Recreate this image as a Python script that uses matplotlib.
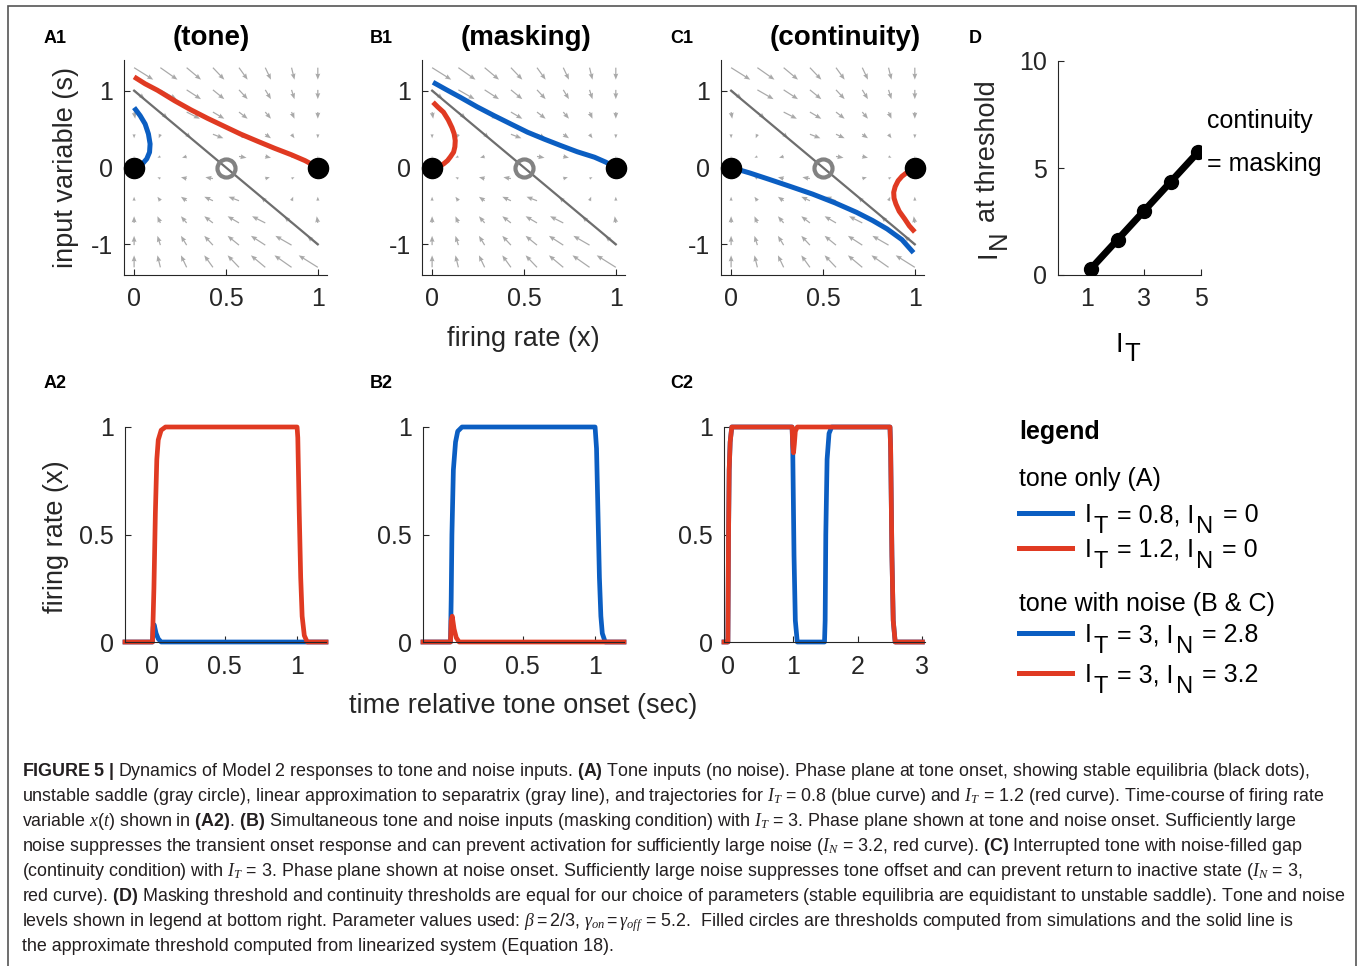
import numpy as np
import matplotlib
matplotlib.use('Agg')
import matplotlib.pyplot as plt
from matplotlib import font_manager
from matplotlib.patches import Rectangle
from matplotlib.lines import Line2D

W, H = 1360, 966

# ---- phase plane vector field (same grid in A1, B1, C1), arrow components as drawn
grid_x = [0.0, 0.143, 0.286, 0.429, 0.571, 0.714, 0.857, 1.0]
grid_s = [1.3, 1.011, 0.722, 0.433, 0.144, -0.144, -0.433, -0.722, -1.011, -1.3]
field_dx = [
    [0.104, 0.093, 0.078, 0.062, 0.047, 0.031, 0.016, 0.0],
    [0.058, 0.088, 0.078, 0.062, 0.047, 0.031, 0.016, 0.0],
    [0.006, 0.041, 0.072, 0.062, 0.047, 0.031, 0.016, 0.0],
    [0.0, -0.009, 0.024, 0.057, 0.047, 0.031, 0.016, 0.0],
    [0.0, -0.016, -0.025, 0.008, 0.041, 0.031, 0.016, 0.0],
    [0.0, -0.016, -0.031, -0.041, -0.008, 0.025, 0.016, 0.0],
    [0.0, -0.016, -0.031, -0.047, -0.057, -0.024, 0.009, 0.0],
    [0.0, -0.016, -0.031, -0.047, -0.062, -0.072, -0.041, -0.006],
    [0.0, -0.016, -0.031, -0.047, -0.062, -0.078, -0.088, -0.058],
    [0.0, -0.016, -0.031, -0.047, -0.062, -0.078, -0.093, -0.104],
]
field_ds = [-0.156, -0.121, -0.087, -0.052, -0.017, 0.017, 0.052, 0.087, 0.121, 0.156]

sep_x = [0, 1]
sep_s = [1, -1]
stable_x = [0, 1]
stable_s = [0, 0]
saddle_x = [0.5]
saddle_s = [0]

# trajectories (x, s)
a1_blue_x = [0.0, 0.033, 0.06, 0.078, 0.087, 0.084, 0.069, 0.042, 0.011, 0.0]
a1_blue_s = [0.78, 0.675, 0.567, 0.437, 0.307, 0.199, 0.113, 0.039, 0.005, 0.0]
a1_red_x = [0.0, 0.06, 0.127, 0.22, 0.31, 0.40, 0.492, 0.58, 0.674, 0.765, 0.856, 0.93, 1.0]
a1_red_s = [1.18, 1.09, 1.006, 0.87, 0.75, 0.64, 0.535, 0.435, 0.34, 0.25, 0.166, 0.09, 0.0]

b1_blue_x = [0.005, 0.08, 0.153, 0.245, 0.336, 0.43, 0.519, 0.61, 0.70, 0.79, 0.884, 0.945, 1.0]
b1_blue_s = [1.11, 1.01, 0.915, 0.79, 0.677, 0.565, 0.46, 0.37, 0.286, 0.205, 0.134, 0.07, 0.0]
b1_red_x = [0.005, 0.03, 0.062, 0.088, 0.108, 0.12, 0.126, 0.124, 0.117, 0.1, 0.084, 0.064, 0.044, 0.02, 0.0]
b1_red_s = [0.85, 0.79, 0.72, 0.62, 0.52, 0.44, 0.35, 0.27, 0.2, 0.14, 0.09, 0.05, 0.02, 0.005, 0.0]

c1_blue_x = [0.0, 0.1, 0.203, 0.32, 0.443, 0.565, 0.682, 0.77, 0.849, 0.93, 0.993]
c1_blue_s = [0.0, -0.07, -0.151, -0.245, -0.346, -0.46, -0.583, -0.69, -0.8, -0.94, -1.11]
c1_red_x = [1.0, 0.97, 0.945, 0.915, 0.897, 0.887, 0.885, 0.893, 0.909, 0.93, 0.957, 0.98, 1.0]
c1_red_s = [-0.84, -0.76, -0.67, -0.57, -0.475, -0.4, -0.324, -0.25, -0.173, -0.115, -0.065, -0.025, 0.0]

# time courses of firing rate
a2_red_t = [-0.19, 0, 0.01, 0.02, 0.03, 0.04, 0.06, 0.09, 1.0, 1.005, 1.015, 1.025, 1.035, 1.05, 1.07, 1.2]
a2_red_x = [0, 0, 0.25, 0.6, 0.85, 0.94, 0.985, 1.0, 1.0, 0.95, 0.6, 0.3, 0.12, 0.03, 0, 0]
a2_blue_t = [-0.19, 0, 0.005, 0.012, 0.025, 0.04, 0.06, 1.0, 1.2]
a2_blue_x = [0, 0, 0.07, 0.08, 0.04, 0.015, 0, 0, 0]

b2_blue_t = [-0.19, 0, 0.005, 0.01, 0.02, 0.035, 0.05, 0.08, 1.0, 1.01, 1.02, 1.03, 1.04, 1.05, 1.07, 1.2]
b2_blue_x = [0, 0, 0.2, 0.5, 0.8, 0.93, 0.98, 1.0, 1.0, 0.9, 0.6, 0.3, 0.12, 0.04, 0, 0]
b2_red_t = [-0.19, 0, 0.005, 0.012, 0.025, 0.04, 0.06, 1.2]
b2_red_x = [0, 0, 0.1, 0.12, 0.06, 0.02, 0, 0]

c2_blue_t = [-0.06, 0, 0.01, 0.02, 0.035, 0.06, 0.99, 1.0, 1.02, 1.04, 1.07, 1.49, 1.5, 1.51, 1.53, 1.56, 1.6,
             2.5, 2.51, 2.53, 2.55, 2.58, 3.0]
c2_blue_x = [0, 0, 0.5, 0.8, 0.93, 1, 1, 0.9, 0.4, 0.1, 0, 0, 0.1, 0.5, 0.85, 0.97, 1,
             1, 0.9, 0.4, 0.1, 0, 0]
c2_red_t = [-0.06, 0, 0.01, 0.02, 0.035, 0.06, 0.99, 1.0, 1.012, 1.025, 1.04, 1.07, 2.5, 2.51, 2.53, 2.55, 2.58, 3.0]
c2_red_x = [0, 0, 0.5, 0.8, 0.93, 1, 1, 0.92, 0.88, 0.92, 0.98, 1, 1, 0.9, 0.4, 0.1, 0, 0]

# D: thresholds
it_sim = [1.15, 2.1, 3.0, 3.95, 4.9]
in_sim = [0.3, 1.65, 3.0, 4.35, 5.75]
it_lin = [1.1, 4.95]
in_lin = [0.22, 5.82]

# legend entries: colour, I_T text, I_N text
legend_rows = [('blue', '0.8', '0'), ('red', '1.2', '0'), ('blue', '3', '2.8'), ('red', '3', '3.2')]

caption = [
    r"$\mathbf{FIGURE\ 5\ |}$ Dynamics of Model 2 responses to tone and noise inputs. $\mathbf{(A)}$ Tone inputs (no noise). Phase plane at tone onset, showing stable equilibria (black dots),",
    r"unstable saddle (gray circle), linear approximation to separatrix (gray line), and trajectories for $I_T$ = 0.8 (blue curve) and $I_T$ = 1.2 (red curve). Time-course of firing rate",
    r"variable $x(t)$ shown in $\mathbf{(A2)}$. $\mathbf{(B)}$ Simultaneous tone and noise inputs (masking condition) with $I_T$ = 3. Phase plane shown at tone and noise onset. Sufficiently large",
    r"noise suppresses the transient onset response and can prevent activation for sufficiently large noise ($I_N$ = 3.2, red curve). $\mathbf{(C)}$ Interrupted tone with noise-filled gap",
    r"(continuity condition) with $I_T$ = 3. Phase plane shown at noise onset. Sufficiently large noise suppresses tone offset and can prevent return to inactive state ($I_N$ = 3,",
    r"red curve). $\mathbf{(D)}$ Masking threshold and continuity thresholds are equal for our choice of parameters (stable equilibria are equidistant to unstable saddle). Tone and noise",
    r"levels shown in legend at bottom right. Parameter values used: $\beta = 2/3$, $\gamma_{on} = \gamma_{off}$ = 5.2.  Filled circles are thresholds computed from simulations and the solid line is",
    r"the approximate threshold computed from linearized system (Equation 18).",
]

BLUE = '#0b5ec2'
RED = '#e03a22'
COLORS = {'blue': BLUE, 'red': RED}
AX = '#262626'

cap_font = 'Liberation Sans'
try:
    font_manager.findfont('Liberation Sans Narrow', fallback_to_default=False)
    cap_font = 'Liberation Sans Narrow'
except ValueError:
    pass

plt.rcParams['font.family'] = ['Liberation Sans', 'DejaVu Sans']
plt.rcParams['axes.unicode_minus'] = False
plt.rcParams['mathtext.fontset'] = 'custom'
plt.rcParams['mathtext.rm'] = 'Liberation Sans'
plt.rcParams['mathtext.it'] = 'Liberation Serif:italic'
plt.rcParams['mathtext.bf'] = cap_font + ':bold'

fig = plt.figure(figsize=(13.6, 9.66), dpi=100)
renderer = fig.canvas.get_renderer()


def box(l, t, r, b):
    return [l / W, 1 - b / H, (r - l) / W, (b - t) / H]


def ftext(x, y, s, **kw):
    return fig.text(x / W, 1 - y / H, s, **kw)


def text_width(s, size):
    t = ftext(0, 0, s, fontsize=size)
    w = t.get_window_extent(renderer).width
    t.remove()
    return w


def sub_label(x, y, parts, size, drop=11, vertical=False, center=False):
    # parts: (text, is_subscript, gap_before_px); big MATLAB-style subscripts
    widths = [text_width(s, size * (0.95 if sub else 1)) for s, sub, g in parts]
    total = sum(widths) + sum(g for s, sub, g in parts)
    pos = -total / 2 if center else 0
    for (s, sub, g), w in zip(parts, widths):
        pos += g
        fs = size * (0.95 if sub else 1)
        if vertical:
            ftext(x + (drop if sub else 0), y - pos, s, fontsize=fs, rotation=90,
                  ha='center', va='bottom', color=AX)
        else:
            ftext(x + pos, y + (drop if sub else 0), s, fontsize=fs, ha='left', va='baseline', color='k')
        pos += w


def style(ax):
    for side in ['top', 'right']:
        ax.spines[side].set_visible(False)
    for side in ['left', 'bottom']:
        ax.spines[side].set_color(AX)
        ax.spines[side].set_linewidth(0.8)
    ax.tick_params(direction='in', length=4, width=0.8, colors=AX, labelsize=18)
    ax.tick_params(axis='x', pad=9)
    ax.tick_params(axis='y', pad=8)
    ax.patch.set_alpha(0)


QX, QS = np.meshgrid(grid_x, grid_s)
QU = np.array(field_dx)
QV = np.array(field_ds)[:, None] * np.ones(len(grid_x))

phase = [
    ((124, 60, 327, 275), [(a1_blue_x, a1_blue_s, BLUE), (a1_red_x, a1_red_s, RED)]),
    ((422, 60, 625, 275), [(b1_blue_x, b1_blue_s, BLUE), (b1_red_x, b1_red_s, RED)]),
    ((721, 60, 924, 275), [(c1_blue_x, c1_blue_s, BLUE), (c1_red_x, c1_red_s, RED)]),
]
for rect, trajs in phase:
    ax = fig.add_axes(box(*rect))
    style(ax)
    ax.quiver(QX, QS, QU, QV, angles='xy', scale_units='xy', scale=1, color='#a9a9a9',
              width=0.006, headwidth=4, headlength=5, headaxislength=4.5, zorder=1)
    ax.plot(sep_x, sep_s, color='#6e6e6e', lw=1.6, zorder=2)
    for tx, ts, c in trajs:
        ax.plot(tx, ts, color=c, lw=3.6, solid_capstyle='butt', solid_joinstyle='round', zorder=3)
    ax.plot(saddle_x, saddle_s, 'o', mfc='none', mec='#828282', mew=3.0, ms=13, zorder=4)
    ax.plot(stable_x, stable_s, 'o', color='k', ms=14.5, zorder=5, clip_on=False)
    ax.set_xlim(-0.055, 1.05)
    ax.set_ylim(-1.4, 1.4)
    ax.set_xticks([0, 0.5, 1])
    ax.set_xticklabels(['0', '0.5', '1'])
    ax.set_yticks([-1, 0, 1])
    ax.set_yticklabels(['-1', '0', '1'])

# D panel
axd = fig.add_axes(box(1058, 61, 1201, 275))
style(axd)
axd.plot(it_lin, in_lin, color='k', lw=5, solid_capstyle='round', zorder=2)
axd.plot(it_sim, in_sim, 'o', color='k', ms=10, zorder=3)
axd.set_xlim(0, 5)
axd.set_ylim(0, 10)
axd.set_xticks([1, 3, 5])
axd.set_yticks([0, 5, 10])

# time courses
timec = [
    ((125, 427, 326, 642), (-0.19, 1.2), [0, 0.5, 1], ['0', '0.5', '1'],
     [(a2_blue_t, a2_blue_x, BLUE), (a2_red_t, a2_red_x, RED)]),
    ((423, 427, 624, 642), (-0.19, 1.2), [0, 0.5, 1], ['0', '0.5', '1'],
     [(b2_blue_t, b2_blue_x, BLUE), (b2_red_t, b2_red_x, RED)]),
    ((724, 427, 925, 642), (-0.06, 3.04), [0, 1, 2, 3], ['0', '1', '2', '3'],
     [(c2_blue_t, c2_blue_x, BLUE), (c2_red_t, c2_red_x, RED)]),
]
for rect, xl, xt, xtl, series in timec:
    ax = fig.add_axes(box(*rect))
    style(ax)
    for tt, xx, c in series:
        ax.plot(tt, xx, color=c, lw=3.4, solid_joinstyle='round', clip_on=False)
    ax.set_xlim(*xl)
    ax.set_ylim(0, 1)
    ax.set_xticks(xt)
    ax.set_xticklabels(xtl)
    ax.set_yticks([0, 0.5, 1])
    ax.set_yticklabels(['0', '0.5', '1'])

# panel labels and titles
for x, y, s in [(44, 43, 'A1'), (370, 43, 'B1'), (670, 43, 'C1'), (969, 43, 'D'),
                (44, 388, 'A2'), (370, 388, 'B2'), (670, 388, 'C2')]:
    ftext(x, y, s, fontsize=13, fontweight='bold', va='baseline', color='k')
for x, s in [(211, '(tone)'), (526, '(masking)'), (845, '(continuity)')]:
    ftext(x, 45, s, fontsize=20, fontweight='bold', ha='center', va='baseline', color='k')

lab = dict(fontsize=19.5, color=AX, ha='center', va='center')
ftext(66, 168, 'input variable (s)', rotation=90, **lab)
ftext(523, 339, 'firing rate (x)', **lab)
ftext(56, 537, 'firing rate (x)', rotation=90, **lab)
ftext(523, 706, 'time relative tone onset (sec)', **lab)
sub_label(988, 169, [('I', False, 0), ('N', True, 1), ('at threshold', False, 9)], 19.5,
          drop=11, vertical=True, center=True)
sub_label(1128, 352, [('I', False, 0), ('T', True, 1)], 19.5, drop=9, center=True)
ftext(1207, 128, 'continuity', fontsize=18, color='k', va='baseline')
ftext(1207, 171, '= masking', fontsize=18, color='k', va='baseline')

# legend block
ftext(1019, 439, 'legend', fontsize=18, fontweight='bold', color='k', va='baseline')
ftext(1019, 486, 'tone only (A)', fontsize=18, color='k', va='baseline')
ftext(1019, 611, 'tone with noise (B & C)', fontsize=18, color='k', va='baseline')
for (c, it, inn), y in zip(legend_rows, [513, 548, 633, 673]):
    fig.add_artist(Line2D([1019 / W, 1072 / W], [1 - y / H, 1 - y / H], transform=fig.transFigure,
                          color=COLORS[c], lw=3.6))
    sub_label(1085, y + 9, [('I', False, 0), ('T', True, 2), ('= %s, I' % it, False, 9),
                            ('N', True, 2), ('= %s' % inn, False, 9)], 18, drop=11)

# caption, one size fitted to the line widths of the original
widths = []
for line in caption[:7]:
    p = ftext(22, 776, line, fontsize=12, family=cap_font, va='baseline')
    widths.append(p.get_window_extent(renderer).width)
    p.remove()
cap_size = 12 * min(1296 / widths[0], 1318 / max(widths))
for i, line in enumerate(caption):
    ftext(22, 776 + 25 * i, line, fontsize=cap_size, family=cap_font, color='#231f20', va='baseline')

fig.add_artist(Rectangle((8 / W, -0.05), 1348 / W, 1 - 6 / H + 0.05, transform=fig.transFigure,
                         fill=False, edgecolor='#555555', lw=1.2))

fig.savefig('out.png', dpi=100)
